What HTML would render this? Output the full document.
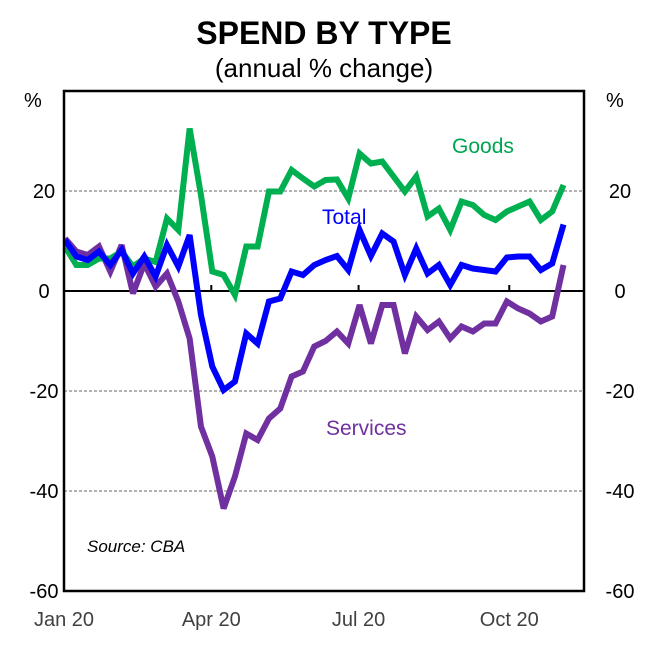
<!DOCTYPE html>
<html><head><meta charset="utf-8"><style>
body{margin:0;background:#fff;}
svg text{font-family:"Liberation Sans",Arial,sans-serif;}
</style></head><body>
<svg id="chart" width="648" height="650" xmlns="http://www.w3.org/2000/svg">
<text x="324" y="44" text-anchor="middle" font-size="32" font-weight="bold" fill="#000">SPEND BY TYPE</text>
<text x="324" y="77" text-anchor="middle" font-size="26" fill="#000">(annual % change)</text>
<g id="grid"></g>
<g id="axes"></g>
<g id="series"></g>
<rect x="64" y="91" width="520" height="500" fill="none" stroke="#000" stroke-width="2.5"/>
<text x="452" y="153" font-size="21" fill="#00a650">Goods</text>
<text x="322" y="224" font-size="21" fill="#0000ff">Total</text>
<text x="326" y="435" font-size="21" fill="#7030a0">Services</text>
<text x="87" y="552" font-size="17" font-style="italic" fill="#000">Source: CBA</text>
<text x="24" y="107" font-size="20" fill="#000">%</text>
<text x="606" y="107" font-size="20" fill="#000">%</text>
</svg>
<script>
const yTicks=[20,0,-20,-40,-60];
const xTickLabels=["Jan 20","Apr 20","Jul 20","Oct 20"];
const xTickWeeks=[0,13,26,39.3];
const goods=[8.9,5.2,5.2,6.5,6.5,7.9,4.9,6.5,5.8,14.5,12.2,32.5,19.2,3.9,3.2,-0.8,8.9,8.9,19.9,19.9,24.2,22.5,20.9,22.2,22.3,18.5,27.5,25.5,25.9,22.9,19.9,22.9,14.9,16.5,12.2,17.9,17.2,15.2,14.2,15.9,16.9,17.9,14.2,15.9,21.2];
const total=[10.2,6.9,6.2,7.9,5.2,8.2,3.5,6.9,2.9,9.2,4.9,11.2,-4.8,-15.1,-19.8,-18.1,-8.5,-10.5,-2.1,-1.5,3.9,3.2,5.2,6.2,7.0,4.2,12.2,7.0,11.5,9.9,3.2,8.5,3.5,5.2,1.2,5.2,4.5,4.2,3.9,6.7,6.9,6.9,4.2,5.5,13.3];
const services=[10.5,7.9,7.2,8.9,3.9,9.2,-0.5,5.5,0.9,3.5,-2.1,-9.5,-27.1,-33.1,-43.5,-37.1,-28.5,-29.8,-25.5,-23.5,-17.1,-16.1,-11.1,-10.0,-8.1,-10.5,-2.8,-10.5,-2.8,-2.8,-12.5,-5.1,-7.8,-6.1,-9.5,-7.1,-8.1,-6.5,-6.5,-2.1,-3.5,-4.5,-6.1,-5.1,5.2];
const NS="http://www.w3.org/2000/svg";
const X0=65,DX=11.33,Y0=291,PY=5;
function xs(i){return X0+i*DX;}
function ys(v){return Y0-v*PY;}
function mk(t,a,p){const e=document.createElementNS(NS,t);for(const k in a)e.setAttribute(k,a[k]);p.appendChild(e);return e;}
const grid=document.getElementById('grid'),axes=document.getElementById('axes'),ser=document.getElementById('series');
yTicks.forEach(v=>{
  if(v!==0&&v!==-60){const l=mk('line',{x1:64,x2:584,y1:ys(v),y2:ys(v),stroke:'#666','stroke-width':1,'stroke-dasharray':'3,2'},grid);
  
  }
  const a=mk('text',{x:44,y:ys(v)+7,'text-anchor':'middle','font-size':20,fill:'#000'},axes);a.textContent=v;
  
  
  const b=mk('text',{x:620,y:ys(v)+7,'text-anchor':'middle','font-size':20,fill:'#000'},axes);b.textContent=v;
  
  
});
const z=mk('line',{x1:64,x2:584,y1:ys(0),y2:ys(0),stroke:'#000','stroke-width':2},axes);


xTickLabels.forEach((s,i)=>{
  const x=X0-1+xTickWeeks[i]*DX;
  const t=mk('text',{x:x,y:626,'text-anchor':'middle','font-size':20,fill:'#404040'},axes);t.textContent=s;
  
  
  if(i>0){const k=mk('line',{x1:x,x2:x,y1:ys(0),y2:ys(0)-6,stroke:'#000','stroke-width':2},axes);
  
  }
});
function draw(arr,col,name){
  const p=mk('polyline',{points:arr.map((v,i)=>xs(i)+','+ys(v)).join(' '),fill:'none',stroke:col,'stroke-width':6,'stroke-linejoin':'miter','stroke-miterlimit':3},ser);
  
  
}
draw(services,'#7030a0','services-line');
draw(goods,'#00b050','goods-line');
draw(total,'#0000ff','total-line');
</script>
</body></html>
